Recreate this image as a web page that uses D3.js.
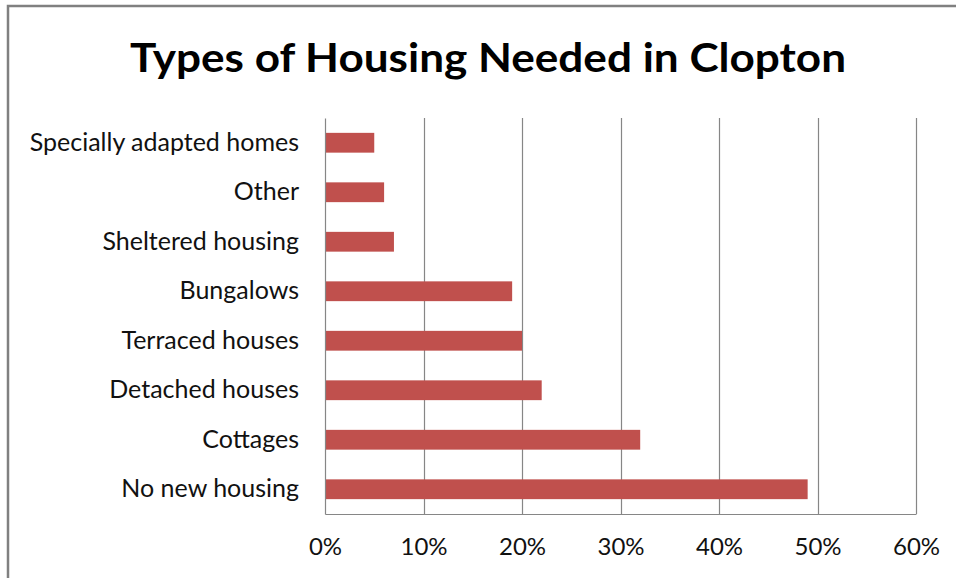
<!DOCTYPE html>
<html>
<head>
<meta charset="utf-8">
<script src="https://cdn.jsdelivr.net/npm/d3@7"></script>
<style>
  html, body { margin: 0; padding: 0; background: #fff; }
  svg { display: block; }
</style>
</head>
<body>
<svg id="chart" width="956" height="578"></svg>
<script>
// Housing types, listed top to bottom, and the share of respondents for each
const categories = [
  "Specially adapted homes",
  "Other",
  "Sheltered housing",
  "Bungalows",
  "Terraced houses",
  "Detached houses",
  "Cottages",
  "No new housing"
];
const shares = [0.05, 0.06, 0.07, 0.19, 0.20, 0.22, 0.32, 0.49];
const tickValues = [0, 0.1, 0.2, 0.3, 0.4, 0.5, 0.6];
const titleText = "Types of Housing Needed in Clopton";

const data = categories.map((c, i) => ({ category: c, value: shares[i] }));

const svg = d3.select("#chart");
const W = 956, H = 578;
const plot = { left: 325, right: 916, top: 118, bottom: 514 };
const gray = "#868686";
const barColor = "#C0504D";
const font = "Lato, Carlito, 'Open Sans', sans-serif";

// chart frame (top and left edges)
svg.append("path")
  .attr("d", `M8,${H} L8,6 L${W},6`)
  .attr("fill", "none")
  .attr("stroke", "#808080")
  .attr("stroke-width", 2.5);

// title
svg.append("text")
  .attr("x", 488)
  .attr("y", 72)
  .attr("text-anchor", "middle")
  .attr("font-family", font)
  .attr("font-weight", "bold")
  .attr("font-size", 41)
  .attr("textLength", 716)
  .attr("lengthAdjust", "spacingAndGlyphs")
  .attr("fill", "#000")
  .text(titleText);

const x = d3.scaleLinear().domain([0, 0.6]).range([plot.left, plot.right]);
const y = d3.scaleBand()
  .domain(categories)
  .range([plot.top, plot.bottom])
  .paddingInner(0.6)
  .paddingOuter(0.3);

// vertical gridlines
svg.append("g")
  .selectAll("line")
  .data(tickValues.slice(1))
  .join("line")
  .attr("x1", d => Math.round(x(d)) + 0.5)
  .attr("x2", d => Math.round(x(d)) + 0.5)
  .attr("y1", plot.top)
  .attr("y2", plot.bottom)
  .attr("stroke", gray)
  .attr("stroke-width", 1.2);

// bars
svg.append("g")
  .selectAll("rect")
  .data(data)
  .join("rect")
  .attr("x", x(0))
  .attr("y", d => y(d.category))
  .attr("width", d => x(d.value) - x(0))
  .attr("height", y.bandwidth())
  .attr("fill", barColor);

// x axis along the bottom of the plot
const xAxis = d3.axisBottom(x)
  .tickValues(tickValues)
  .tickFormat(d3.format(".0%"))
  .tickSize(0)
  .tickPadding(24);

const gx = svg.append("g")
  .attr("transform", `translate(0,${plot.bottom})`)
  .call(xAxis);
gx.select(".domain").attr("stroke", gray).attr("stroke-width", 1.2);
gx.selectAll("text")
  .attr("font-family", font)
  .attr("font-size", 24)
  .attr("fill", "#111");

// y axis with category labels
const yAxis = d3.axisLeft(y).tickSize(0).tickPadding(26);
const gy = svg.append("g")
  .attr("transform", `translate(${plot.left},0)`)
  .call(yAxis);
gy.select(".domain").attr("stroke", gray).attr("stroke-width", 1.2);
gy.selectAll("text")
  .attr("font-family", font)
  .attr("font-size", 25)
  .attr("fill", "#111");
</script>
</body>
</html>
